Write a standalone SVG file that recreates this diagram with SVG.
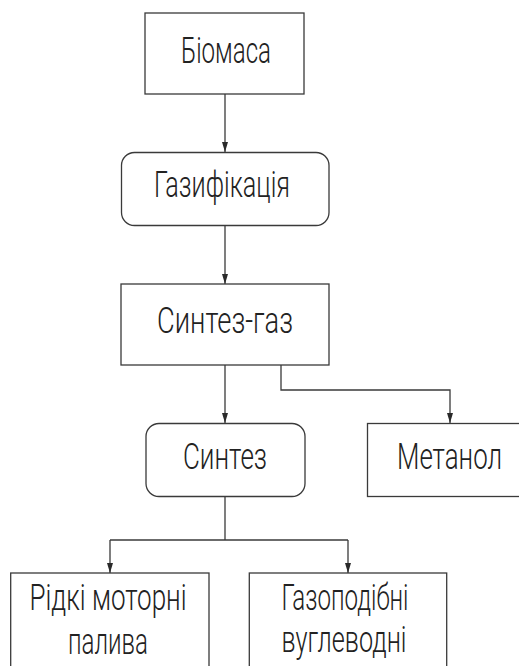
<svg xmlns="http://www.w3.org/2000/svg" width="519" height="666" viewBox="0 0 519 666">
<style>
.box{fill:#fff;stroke:#3a3a3a;stroke-width:1.3}
.con{fill:none;stroke:#3a3a3a;stroke-width:1.3}
text{font-family:"Roboto","Open Sans","DejaVu Sans",sans-serif;font-weight:300;font-size:36px;fill:#222;text-anchor:middle}
</style>
<defs>
<marker id="arr" viewBox="0 0 10 6" refX="10" refY="3" markerWidth="10" markerHeight="6" markerUnits="userSpaceOnUse" orient="auto">
<path d="M0,0 L10,3 L0,6 Z" fill="#2a2a2a"/>
</marker>
</defs>
<rect width="519" height="666" fill="#fff"/>
<g id="connectors">
<line class="con" x1="225" y1="94" x2="225" y2="152" marker-end="url(#arr)"/>
<line class="con" x1="225" y1="226" x2="225" y2="284" marker-end="url(#arr)"/>
<line class="con" x1="225" y1="365" x2="225" y2="423" marker-end="url(#arr)"/>
<polyline class="con" points="281,365 281,390 450,390 450,423" marker-end="url(#arr)"/>
<polyline class="con" points="225,497 225,540"/>
<polyline class="con" points="110,540 348,540"/>
<line class="con" x1="110" y1="540" x2="110" y2="573" marker-end="url(#arr)"/>
<line class="con" x1="348" y1="540" x2="348" y2="573" marker-end="url(#arr)"/>
</g>
<g id="biomasa">
<rect class="box" x="145" y="13" width="159" height="81"/>
<text x="226" y="63" textLength="90" lengthAdjust="spacingAndGlyphs">Біомаса</text>
</g>
<g id="gazyfikatsiia">
<rect class="box" x="121.5" y="152.5" width="207.5" height="73" rx="13"/>
<text x="222" y="197" textLength="136" lengthAdjust="spacingAndGlyphs">Газифікація</text>
</g>
<g id="syntez-gaz">
<rect class="box" x="121" y="284" width="208" height="81"/>
<text x="225" y="333" textLength="136" lengthAdjust="spacingAndGlyphs">Синтез-газ</text>
</g>
<g id="syntez">
<rect class="box" x="146" y="423.5" width="159" height="73" rx="13"/>
<text x="225" y="469" textLength="84" lengthAdjust="spacingAndGlyphs">Синтез</text>
</g>
<g id="metanol">
<rect class="box" x="367.5" y="423.5" width="170" height="73"/>
<text x="449.5" y="469" textLength="105" lengthAdjust="spacingAndGlyphs">Метанол</text>
</g>
<g id="ridki">
<rect class="box" x="10.7" y="573" width="198.3" height="110"/>
<text x="108" y="610" textLength="157" lengthAdjust="spacingAndGlyphs">Рідкі моторні</text>
<text x="108" y="654" textLength="80" lengthAdjust="spacingAndGlyphs">палива</text>
</g>
<g id="gazopodibni">
<rect class="box" x="249.3" y="573" width="197.4" height="110"/>
<text x="345" y="610" textLength="127" lengthAdjust="spacingAndGlyphs">Газоподібні</text>
<text x="344" y="652" textLength="125" lengthAdjust="spacingAndGlyphs">вуглеводні</text>
</g>
</svg>
